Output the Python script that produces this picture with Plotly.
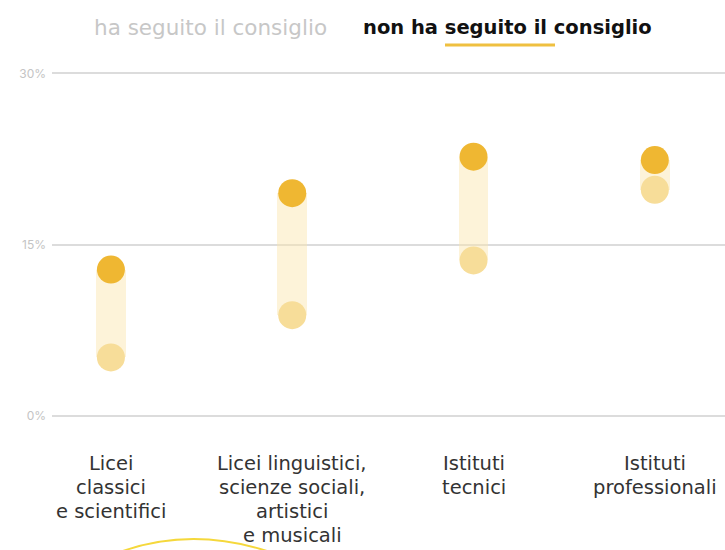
import plotly.graph_objects as go

# Share of students (%) by school type
categories = [
    ["Licei", "classici", "e scientifici"],
    ["Licei linguistici,", "scienze sociali,", "artistici", "e musicali"],
    ["Istituti", "tecnici"],
    ["Istituti", "professionali"],
]
followed = [5.1, 8.8, 13.6, 19.8]       # ha seguito il consiglio
not_followed = [12.8, 19.5, 22.7, 22.4]  # non ha seguito il consiglio
y_ticks = [0, 15, 30]
y_tick_labels = ["0%", "15%", "30%"]

xs = list(range(len(categories)))

fig = go.Figure()

# range band between the two values
fig.add_trace(go.Bar(
    x=xs,
    base=followed,
    y=[n - f for n, f in zip(not_followed, followed)],
    width=0.165,
    marker=dict(color="rgba(250,228,170,0.45)", line=dict(width=0)),
    hoverinfo="skip",
    showlegend=False,
))

fig.add_trace(go.Scatter(
    x=xs, y=followed, mode="markers",
    marker=dict(size=28, color="#f7dd99"),
    cliponaxis=False, showlegend=False,
))
fig.add_trace(go.Scatter(
    x=xs, y=not_followed, mode="markers",
    marker=dict(size=28, color="#efb732"),
    cliponaxis=False, showlegend=False,
))

annotations = []
# category labels, one annotation per line
for i, lines in enumerate(categories):
    for j, line in enumerate(lines):
        annotations.append(dict(
            x=i, y=0, xref="x", yref="y",
            text=line, showarrow=False,
            xanchor="center", yanchor="middle",
            yshift=-48 - 24 * j,
            font=dict(family="DejaVu Sans, sans-serif", size=19.5, color="#333333"),
        ))

W, H = 725, 550
ml, mr, mt, mb = 52, 0, 62, 123
pw, ph = W - ml - mr, H - mt - mb


def px(x):
    return (x - ml) / pw


def py(y):
    return (H - mb - y) / ph


# header keys
annotations.append(dict(
    x=px(92), y=py(28), xref="paper", yref="paper", text="ha seguito il consiglio",
    showarrow=False, xanchor="left", yanchor="middle",
    font=dict(family="DejaVu Sans, sans-serif", size=21.5, color="#c7c7c7"),
))
annotations.append(dict(
    x=px(361), y=py(28), xref="paper", yref="paper", text="non ha seguito il consiglio",
    showarrow=False, xanchor="left", yanchor="middle",
    font=dict(family="DejaVu Sans, sans-serif", size=19.5, color="#111111", weight="bold"),
))

shapes = [
    # underline under the active key
    dict(type="line", xref="paper", yref="paper",
         x0=px(445), x1=px(555), y0=py(45), y1=py(45),
         line=dict(color="#efc040", width=3)),
    # decorative arc at the bottom
    dict(type="path", xref="paper", yref="paper",
         path=f"M {px(120)},{py(552)} Q {px(192)},{py(526)} {px(270)},{py(552)}",
         line=dict(color="#f5d83c", width=2), layer="below"),
]

fig.update_layout(
    width=W, height=H,
    margin=dict(l=ml, r=mr, t=mt, b=mb),
    paper_bgcolor="white", plot_bgcolor="white",
    bargap=0,
    annotations=annotations,
    shapes=shapes,
    xaxis=dict(range=[-0.325, 3.387], showgrid=False, zeroline=False,
               showticklabels=False, fixedrange=True),
    yaxis=dict(range=[-1, 31], tickvals=y_ticks, ticktext=y_tick_labels,
               showgrid=True, gridcolor="#dcdcdc", gridwidth=1.5,
               zeroline=False, ticks="", ticklabelstandoff=5,
               tickfont=dict(family="Inter, sans-serif", size=12, color="#c4c4c4"),
               fixedrange=True),
)

fig.write_html("out.html")
